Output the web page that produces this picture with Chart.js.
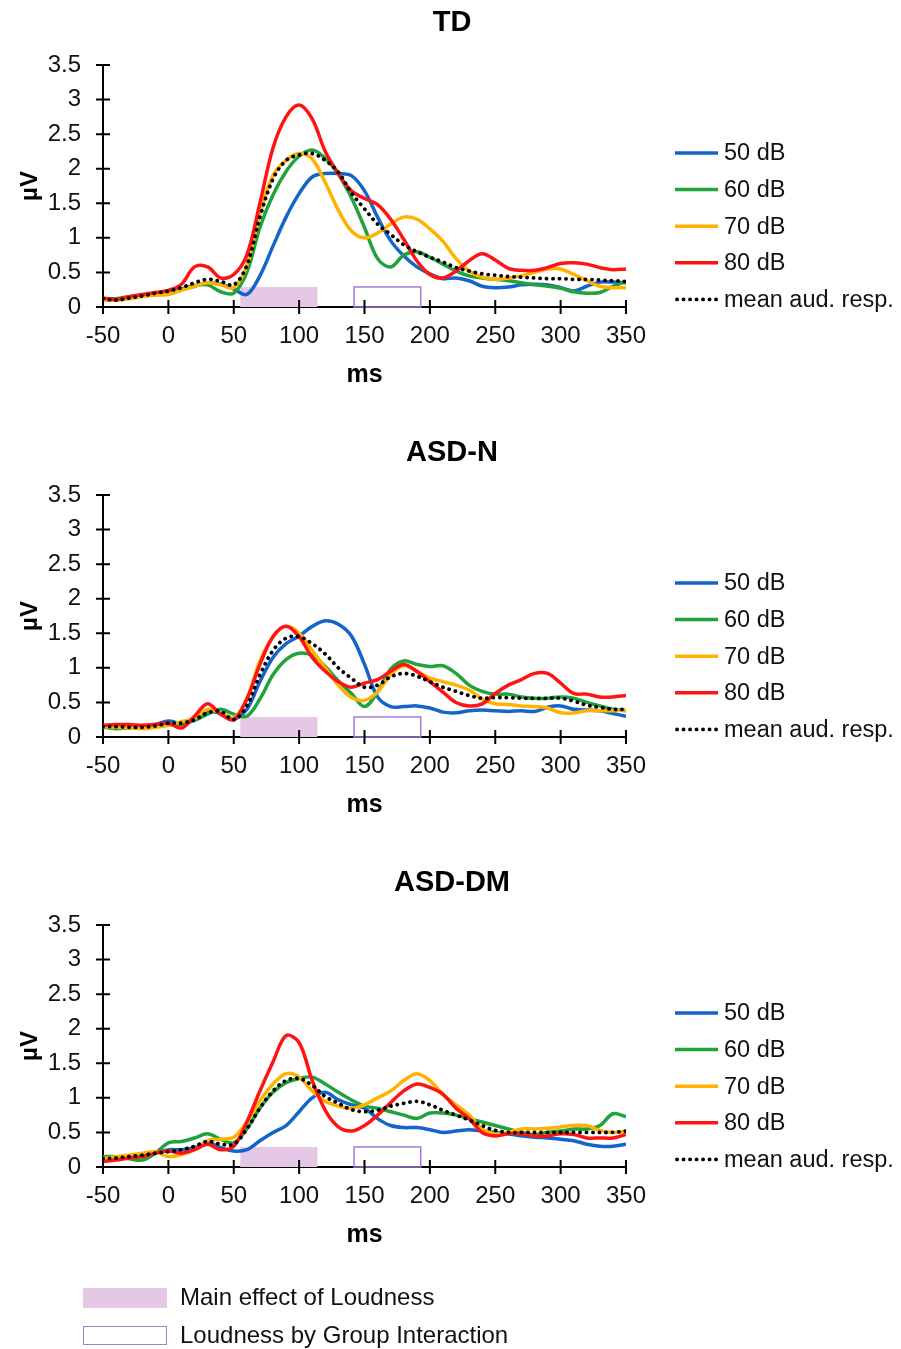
<!DOCTYPE html>
<html>
<head>
<meta charset="utf-8">
<script src="https://cdn.jsdelivr.net/npm/chart.js@4.4.1/dist/chart.umd.min.js"></script>
<style>
    body { margin: 0; background: #fff; width: 901px; height: 1349px; position: relative; overflow: hidden;
           font-family: "Liberation Sans", Arial, sans-serif; color: #111; }
    .panel { position: absolute; left: 0; width: 901px; height: 430px; }
    .key-fill { position: absolute; left: 83px; top: 1288px; width: 84px; height: 20px; background: #e5c7e6; }
    .key-box { position: absolute; left: 83px; top: 1326px; width: 82px; height: 17px; border: 1px solid #a27cd6; }
    .key-text { position: absolute; left: 180px; font-size: 24px; line-height: 28px; white-space: nowrap; }
</style>
</head>
<body>
<div class="panel" style="top:0px"><canvas id="chartTD" width="901" height="430"></canvas></div>
<div class="panel" style="top:430px"><canvas id="chartN" width="901" height="430"></canvas></div>
<div class="panel" style="top:860px"><canvas id="chartDM" width="901" height="430"></canvas></div>

<div class="key-fill"></div>
<div class="key-text" style="top:1283px">Main effect of Loudness</div>
<div class="key-box"></div>
<div class="key-text" style="top:1321px">Loudness by Group Interaction</div>

<script>
// Time axis (ms)
const times = [-50, -40, -30, -20, -10, 0, 10, 20, 30, 40, 50, 60, 70, 80, 90, 100, 110, 120, 130, 140,
    150, 160, 170, 180, 190, 200, 210, 220, 230, 240, 250, 260, 270, 280, 290, 300, 310, 320, 330, 340, 350];

const seriesLabels = ['50 dB', '60 dB', '70 dB', '80 dB', 'mean aud. resp.'];
const yTicks = [0, 0.5, 1, 1.5, 2, 2.5, 3, 3.5];

// TD
const td50 = [0.12, 0.10, 0.13, 0.16, 0.18, 0.20, 0.25, 0.30, 0.35, 0.33, 0.26, 0.18, 0.45, 0.88, 1.30, 1.64, 1.88, 1.93, 1.93, 1.90,
    1.68, 1.30, 0.96, 0.74, 0.58, 0.48, 0.41, 0.42, 0.38, 0.30, 0.28, 0.29, 0.32, 0.33, 0.32, 0.28, 0.23, 0.30, 0.36, 0.36, 0.35];
const td60 = [0.12, 0.12, 0.15, 0.17, 0.20, 0.20, 0.26, 0.31, 0.32, 0.22, 0.20, 0.50, 1.15, 1.62, 1.96, 2.18, 2.27, 2.15, 1.92, 1.58,
    1.15, 0.70, 0.58, 0.75, 0.80, 0.72, 0.62, 0.52, 0.45, 0.42, 0.40, 0.38, 0.35, 0.32, 0.30, 0.27, 0.22, 0.20, 0.21, 0.30, 0.37];
const td70 = [0.10, 0.10, 0.12, 0.15, 0.17, 0.18, 0.24, 0.30, 0.35, 0.32, 0.28, 0.60, 1.35, 1.90, 2.12, 2.22, 2.14, 1.80, 1.40, 1.10,
    1.00, 1.07, 1.20, 1.30, 1.27, 1.13, 0.95, 0.70, 0.52, 0.43, 0.40, 0.42, 0.45, 0.50, 0.55, 0.55, 0.47, 0.38, 0.30, 0.28, 0.28];
const td80 = [0.13, 0.11, 0.15, 0.18, 0.21, 0.24, 0.33, 0.58, 0.58, 0.42, 0.47, 0.75, 1.50, 2.30, 2.75, 2.92, 2.72, 2.25, 1.93, 1.68,
    1.57, 1.48, 1.27, 0.98, 0.67, 0.47, 0.42, 0.52, 0.67, 0.77, 0.68, 0.56, 0.53, 0.53, 0.57, 0.63, 0.64, 0.62, 0.57, 0.54, 0.55];
const tdMean = [0.12, 0.10, 0.13, 0.16, 0.20, 0.23, 0.28, 0.35, 0.40, 0.37, 0.32, 0.60, 1.30, 1.85, 2.12, 2.20, 2.22, 2.12, 1.95, 1.65,
    1.42, 1.20, 1.05, 0.90, 0.80, 0.72, 0.65, 0.57, 0.52, 0.48, 0.46, 0.44, 0.43, 0.42, 0.41, 0.41, 0.40, 0.40, 0.39, 0.38, 0.37];

// ASD-N
const n50 = [0.15, 0.16, 0.16, 0.15, 0.18, 0.23, 0.20, 0.27, 0.37, 0.34, 0.26, 0.40, 0.80, 1.15, 1.35, 1.46, 1.60, 1.68, 1.63, 1.46,
    1.05, 0.58, 0.44, 0.44, 0.45, 0.42, 0.36, 0.35, 0.38, 0.39, 0.38, 0.37, 0.38, 0.37, 0.43, 0.45, 0.40, 0.39, 0.38, 0.34, 0.30];
const n60 = [0.14, 0.12, 0.13, 0.14, 0.15, 0.18, 0.18, 0.24, 0.33, 0.40, 0.33, 0.30, 0.55, 0.90, 1.12, 1.21, 1.18, 1.02, 0.81, 0.63,
    0.44, 0.65, 0.98, 1.10, 1.05, 1.02, 1.03, 0.92, 0.75, 0.66, 0.62, 0.62, 0.58, 0.56, 0.56, 0.58, 0.56, 0.50, 0.45, 0.40, 0.38];
const n70 = [0.15, 0.14, 0.13, 0.12, 0.14, 0.17, 0.22, 0.27, 0.40, 0.35, 0.28, 0.55, 1.10, 1.45, 1.60, 1.50, 1.25, 1.00, 0.75, 0.57,
    0.53, 0.65, 0.90, 1.03, 0.95, 0.85, 0.80, 0.75, 0.68, 0.55, 0.48, 0.47, 0.45, 0.44, 0.42, 0.35, 0.35, 0.38, 0.38, 0.38, 0.39];
const n80 = [0.17, 0.18, 0.18, 0.17, 0.18, 0.20, 0.13, 0.30, 0.48, 0.33, 0.25, 0.55, 1.05, 1.45, 1.60, 1.45, 1.15, 0.95, 0.80, 0.72,
    0.78, 0.83, 0.95, 1.05, 0.95, 0.80, 0.65, 0.50, 0.45, 0.48, 0.63, 0.75, 0.83, 0.92, 0.92, 0.78, 0.63, 0.62, 0.58, 0.58, 0.60];
const nMean = [0.15, 0.15, 0.14, 0.14, 0.16, 0.20, 0.20, 0.25, 0.35, 0.37, 0.25, 0.45, 0.90, 1.25, 1.43, 1.45, 1.35, 1.20, 1.00, 0.85,
    0.72, 0.75, 0.87, 0.92, 0.88, 0.80, 0.72, 0.66, 0.60, 0.56, 0.57, 0.57, 0.56, 0.56, 0.56, 0.56, 0.52, 0.46, 0.43, 0.40, 0.40];

// ASD-DM
const dm50 = [0.12, 0.13, 0.15, 0.18, 0.20, 0.25, 0.25, 0.28, 0.35, 0.28, 0.23, 0.25, 0.38, 0.50, 0.60, 0.80, 1.00, 1.08, 0.97, 0.90,
    0.85, 0.70, 0.60, 0.57, 0.57, 0.54, 0.50, 0.52, 0.54, 0.52, 0.50, 0.48, 0.45, 0.43, 0.42, 0.40, 0.38, 0.33, 0.30, 0.30, 0.33];
const dm60 = [0.15, 0.15, 0.12, 0.10, 0.20, 0.35, 0.37, 0.42, 0.48, 0.40, 0.35, 0.55, 0.85, 1.08, 1.22, 1.28, 1.30, 1.20, 1.08, 0.97,
    0.88, 0.85, 0.80, 0.75, 0.70, 0.78, 0.78, 0.75, 0.70, 0.65, 0.60, 0.55, 0.50, 0.47, 0.50, 0.52, 0.55, 0.55, 0.60, 0.77, 0.73];
const dm70 = [0.12, 0.15, 0.17, 0.20, 0.22, 0.15, 0.18, 0.25, 0.38, 0.40, 0.43, 0.65, 0.95, 1.20, 1.35, 1.30, 1.10, 0.95, 0.88, 0.85,
    0.90, 1.00, 1.10, 1.25, 1.35, 1.25, 1.05, 0.90, 0.75, 0.55, 0.48, 0.50, 0.55, 0.55, 0.56, 0.58, 0.60, 0.60, 0.53, 0.50, 0.52];
const dm80 = [0.08, 0.10, 0.13, 0.15, 0.20, 0.23, 0.20, 0.25, 0.33, 0.25, 0.30, 0.65, 1.10, 1.52, 1.90, 1.80, 1.25, 0.82, 0.58, 0.52,
    0.60, 0.75, 0.93, 1.10, 1.20, 1.15, 1.05, 0.85, 0.70, 0.50, 0.45, 0.48, 0.48, 0.45, 0.45, 0.48, 0.47, 0.42, 0.42, 0.42, 0.47];
const dmMean = [0.12, 0.13, 0.15, 0.17, 0.20, 0.22, 0.25, 0.30, 0.37, 0.33, 0.33, 0.55, 0.85, 1.10, 1.25, 1.28, 1.18, 1.02, 0.92, 0.83,
    0.80, 0.82, 0.88, 0.92, 0.95, 0.90, 0.82, 0.75, 0.68, 0.60, 0.53, 0.50, 0.50, 0.50, 0.50, 0.50, 0.50, 0.50, 0.50, 0.50, 0.52];

// Significance windows (ms) and box height (µV)
const mainEffectWindow = [55, 114];
const interactionWindow = [142, 193];
const windowTop = 0.29;

const lineColors = ['#1565c8', '#1fa33a', '#ffb300', '#ff1414', '#000000'];

Chart.defaults.font.family = '"Liberation Sans", Arial, sans-serif';
Chart.defaults.color = '#111';

function toPoints(values) {
    return values.map((v, i) => ({ x: times[i], y: v }));
}

function makeDatasets(series) {
    return series.map((values, i) => {
        const isMean = i === 4;
        return {
            label: seriesLabels[i],
            data: toPoints(values),
            borderColor: lineColors[i],
            borderWidth: isMean ? 3.8 : 3.5,
            borderDash: isMean ? [0.1, 6.4] : [],
            borderCapStyle: isMean ? 'round' : 'butt',
            pointRadius: 0,
            tension: 0.35,
            order: 4 - i
        };
    });
}

// Title, significance boxes, crossing ticks and the side legend
const panelExtras = {
    id: 'panelExtras',
    beforeDatasetsDraw(chart) {
        const { ctx, scales: { x, y } } = chart;
        const y0 = y.getPixelForValue(0);
        const y1 = y.getPixelForValue(windowTop);
        ctx.save();
        ctx.fillStyle = '#e5c7e6';
        const a = x.getPixelForValue(mainEffectWindow[0]);
        const b = x.getPixelForValue(mainEffectWindow[1]);
        ctx.fillRect(a, y1, b - a, y0 - y1);
        ctx.strokeStyle = '#a27cd6';
        ctx.lineWidth = 1.5;
        const c = x.getPixelForValue(interactionWindow[0]);
        const d = x.getPixelForValue(interactionWindow[1]);
        ctx.strokeRect(c, y1, d - c, y0 - y1);
        ctx.restore();
    },
    afterDraw(chart) {
        const { ctx, chartArea, scales: { x, y } } = chart;
        ctx.save();

        // panel title, centred on the whole figure width
        ctx.font = 'bold 29px "Liberation Sans", Arial, sans-serif';
        ctx.fillStyle = '#000';
        ctx.textAlign = 'center';
        ctx.textBaseline = 'middle';
        ctx.fillText(chart.options.panelTitle, 452, 23);
        ctx.textAlign = 'left';

        ctx.strokeStyle = '#000';
        ctx.lineWidth = 2;
        ctx.beginPath();
        x.ticks.forEach(t => {
            const px = x.getPixelForValue(t.value);
            ctx.moveTo(px, chartArea.bottom - 7);
            ctx.lineTo(px, chartArea.bottom + 7);
        });
        yTicks.forEach(v => {
            const py = y.getPixelForValue(v);
            ctx.moveTo(chartArea.left - 7, py);
            ctx.lineTo(chartArea.left + 7, py);
        });
        ctx.stroke();

        // legend
        ctx.font = '23.5px "Liberation Sans", Arial, sans-serif';
        ctx.fillStyle = '#111';
        chart.data.datasets.forEach((ds, i) => {
            const ly = chartArea.top + 88 + i * 36.6;
            const lx = chartArea.right + 49;
            ctx.beginPath();
            ctx.strokeStyle = ds.borderColor;
            ctx.lineWidth = ds.borderWidth;
            ctx.setLineDash(ds.borderDash);
            ctx.lineCap = ds.borderCapStyle;
            ctx.moveTo(lx + (i === 4 ? 2 : 0), ly);
            ctx.lineTo(lx + 43, ly);
            ctx.stroke();
            ctx.setLineDash([]);
            ctx.fillText(ds.label, lx + 49, ly + 1);
        });
        ctx.restore();
    }
};

function makeChart(id, title, series) {
    return new Chart(document.getElementById(id), {
        type: 'line',
        data: { datasets: makeDatasets(series) },
        options: {
            panelTitle: title,
            responsive: false,
            animation: false,
            devicePixelRatio: 1,
            layout: { padding: { left: 0, right: 275, top: 65, bottom: 0 } },
            plugins: {
                legend: { display: false },
                tooltip: { enabled: false },
                title: { display: false }
            },
            scales: {
                x: {
                    type: 'linear',
                    min: -50,
                    max: 350,
                    ticks: { stepSize: 50, padding: 15, font: { size: 24 }, color: '#111' },
                    grid: { display: false, drawTicks: false },
                    border: { display: true, color: '#000', width: 2 },
                    title: { display: true, text: 'ms', color: '#000', font: { size: 25, weight: 'bold' }, padding: { top: 0, bottom: 40 } },
                    afterFit: s => { s.height = 123; }
                },
                y: {
                    min: 0,
                    max: 3.5,
                    ticks: { stepSize: 0.5, padding: 22, font: { size: 24 }, color: '#111', callback: v => String(v) },
                    grid: { display: false, drawTicks: false },
                    border: { display: true, color: '#000', width: 2 },
                    title: { display: true, text: 'µV', color: '#000', font: { size: 24, weight: 'bold' }, padding: { top: 16, bottom: 0 } },
                    afterFit: s => { s.width = 103; }
                }
            }
        },
        plugins: [panelExtras]
    });
}

makeChart('chartTD', 'TD', [td50, td60, td70, td80, tdMean]);
makeChart('chartN', 'ASD-N', [n50, n60, n70, n80, nMean]);
makeChart('chartDM', 'ASD-DM', [dm50, dm60, dm70, dm80, dmMean]);
</script>
</body>
</html>
